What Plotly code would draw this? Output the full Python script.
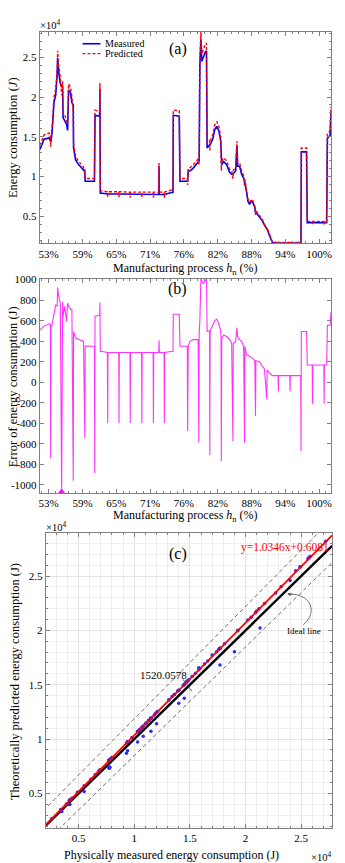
import numpy as np
import plotly.graph_objects as go

# ---------------- data ----------------
process_pct = [
    51.48, 52.19, 52.78, 53.05, 53.29, 53.35, 53.40, 53.58, 53.92, 54.21,
    54.47, 54.56, 54.73, 55.02, 55.25, 55.42, 55.50, 55.77, 56.10, 56.28,
    56.46, 56.80, 57.03, 57.27, 57.32, 57.67, 58.18, 58.70, 59.05, 59.28,
    59.34, 60.95, 61.00, 61.05, 61.60, 61.85, 61.90, 61.97, 62.30, 63.20,
    63.25, 63.30, 65.17, 65.22, 65.27, 67.12, 67.17, 67.22, 69.14, 69.19,
    69.24, 71.15, 71.20, 71.25, 72.13, 72.18, 72.23, 73.05, 73.10, 73.15,
    74.30, 74.60, 74.65, 75.69, 75.81, 77.09, 77.14, 77.25, 77.54, 78.05,
    78.97, 79.09, 79.15, 79.27, 79.45, 79.61, 79.84, 80.13, 80.25, 80.42,
    80.53, 80.95, 81.00, 81.05, 81.50, 81.86, 82.20, 82.55, 82.89, 82.95,
    83.00, 83.07, 83.40, 83.93, 84.45, 84.79, 85.02, 85.07, 85.49, 85.71,
    85.83, 86.18, 86.52, 86.87, 87.04, 87.09, 87.39, 87.62, 87.90, 88.25,
    88.42, 88.82, 88.94, 89.00, 89.63, 90.15, 90.49, 90.90, 90.95, 91.36,
    91.88, 92.86, 92.91, 92.96, 94.89, 94.94, 94.99, 96.79, 96.84, 96.90,
    97.81, 97.93, 98.79, 98.84, 98.89, 100.81, 100.86, 100.91, 101.30, 101.43,
    101.90, 102.05,
]
measured_J = [
    13400, 14700, 14800, 14900, 14500, 14500, 14400, 15500, 19300, 20200,
    22700, 24900, 23200, 21700, 21300, 21200, 17400, 17000, 16600, 15800,
    20900, 20500, 19300, 19000, 13600, 12100, 11500, 11100, 10800, 10800,
    9400, 9400, 17700, 17700, 17600, 17700, 21000, 7900, 7900, 7800,
    7800, 7800, 7800, 7800, 7800, 7750, 7750, 7750, 7750, 7750,
    7750, 7750, 7750, 7750, 7750, 11300, 7750, 7750, 7750, 7750,
    8000, 8000, 17700, 17600, 9400, 9400, 9400, 10700, 10700, 11000,
    11800, 12000, 12000, 24000, 27200, 24500, 24900, 25600, 25700, 25800,
    13600, 14000, 14000, 14000, 14700, 15900, 16300, 15800, 14500, 11500,
    11500, 11500, 11900, 11500, 10500, 10300, 10300, 10400, 10700, 13900,
    11300, 11300, 10300, 9800, 9300, 9300, 8000, 6900, 6500, 6900,
    6800, 6100, 5500, 5500, 4900, 4400, 3900, 3500, 3400, 2600,
    1700, 1650, 1650, 1650, 1650, 1650, 1650, 1650, 1650, 13100,
    13100, 4200, 4200, 4200, 4200, 4200, 4200, 4200, 4200, 14800,
    15200, 18100,
]
error_J = [
    508, 547, 560, 570, 565, -740, 534, 560, 670, 750,
    740, 922, 840, 767, -1070, 785, 640, 740, 590, 770,
    740, 710, 710, -960, 495, 430, 420, 410, 398, -545,
    353, 350, -885, 644, 650, 650, 777, 300, 300, 290,
    -400, 290, 290, -400, 290, 290, -400, 290, 290, -400,
    290, 290, -400, 290, 290, 410, 290, 290, -400, 290,
    300, 300, 663, 663, 350, 350, -475, 350, 398, 415,
    415, -590, 480, 600, 1005, 993, 960, 990, 1000, 1005,
    495, 500, -710, 500, 556, 600, 615, 570, 500, 427,
    -770, 427, 460, 445, 415, 380, -575, 380, 395, 530,
    445, 415, 400, 350, -590, 350, 265, 265, 250, 240,
    235, 210, -330, 210, 200, 155, 130, -165, 120, 90,
    65, 65, -90, 65, 65, -90, 65, 65, -670, 495,
    495, 168, 168, -210, 168, 168, -210, 168, 168, 556,
    556, 680,
]

x_tick_vals = [53, 58.875, 64.75, 70.625, 76.5, 82.375, 88.25, 94.125, 100]
x_tick_text = ['53%', '59%', '65%', '71%', '76%', '82%', '88%', '94%', '100%']
e4_tick_vals = [5000, 10000, 15000, 20000, 25000]
e4_tick_text = ['0.5', '1', '1.5', '2', '2.5']
err_tick_vals = [-1000, -800, -600, -400, -200, 0, 200, 400, 600, 800, 1000]
err_tick_text = ['-1000', '-800', '-600', '-400', '-200', '0', '200', '400', '600', '800', '1000']

fit_slope = 1.0346
fit_intercept = 0.6081
band_halfwidth = 1520.0578

# ---------------- derived ----------------
measured = np.array(measured_J, dtype=float)
error = np.array(error_J, dtype=float)
predicted = measured + error
imin = int(np.argmin(error))

W, H = 345, 863
def PX(px):
    return px / W
def PY(py):
    return 1 - py / H

SERIF = 'Liberation Serif'
AX = '#808080'

fig = go.Figure()

# (a)
fig.add_trace(go.Scatter(x=process_pct, y=measured, mode='lines', name='Measured',
                         line=dict(color='#0000ff', width=1.6), xaxis='x', yaxis='y',
                         showlegend=False))
fig.add_trace(go.Scatter(x=process_pct, y=predicted, mode='lines', name='Predicted',
                         line=dict(color='#ff0000', width=1.4, dash='3px,2px'),
                         xaxis='x', yaxis='y', showlegend=False))
# (b)
fig.add_trace(go.Scatter(x=process_pct, y=error, mode='lines', name='Error',
                         line=dict(color='#ff33ff', width=1.1), xaxis='x2', yaxis='y2',
                         showlegend=False))
fig.add_trace(go.Scatter(x=[process_pct[imin]], y=[error[imin]], mode='markers',
                         marker=dict(symbol='triangle-up', size=7, color='#ff00ff'),
                         xaxis='x2', yaxis='y2', showlegend=False, cliponaxis=False))

# (c)
x_line = np.array([1800.0, 27770.0])
fig.add_trace(go.Scatter(x=x_line, y=fit_slope * x_line + fit_intercept + band_halfwidth,
                         mode='lines', line=dict(color='#606060', width=0.9, dash='4px,3px'),
                         xaxis='x3', yaxis='y3', showlegend=False))
fig.add_trace(go.Scatter(x=x_line, y=x_line - band_halfwidth,
                         mode='lines', line=dict(color='#606060', width=0.9, dash='4px,3px'),
                         xaxis='x3', yaxis='y3', showlegend=False))
fig.add_trace(go.Scatter(x=x_line, y=x_line, mode='lines', name='Ideal line',
                         line=dict(color='#000000', width=2.4),
                         xaxis='x3', yaxis='y3', showlegend=False))
fig.add_trace(go.Scatter(x=measured, y=predicted, mode='markers',
                         marker=dict(color='#2a2aff', size=3.5),
                         xaxis='x3', yaxis='y3', showlegend=False))
fig.add_trace(go.Scatter(x=x_line, y=fit_slope * x_line + fit_intercept, mode='lines',
                         line=dict(color='#ff0000', width=1.8),
                         xaxis='x3', yaxis='y3', showlegend=False))

tickfont = dict(family=SERIF, size=11, color='black')

def axstyle(**kw):
    d = dict(showline=True, linecolor=AX, linewidth=1, mirror='ticks', ticks='inside',
             ticklen=4, tickcolor=AX, zeroline=False, showgrid=False, tickfont=tickfont,
             fixedrange=True)
    d.update(kw)
    return d

xminor = dict(ticks='inside', ticklen=2, tickcolor=AX, tick0=53, dtick=1.175)

fig.update_layout(
    width=W, height=H, autosize=False,
    margin=dict(l=0, r=0, t=0, b=0),
    paper_bgcolor='white', plot_bgcolor='white',
    font=dict(family=SERIF, color='black'),
    xaxis=axstyle(domain=[PX(39), PX(332)], range=[51.45, 102.07], anchor='y',
                  tickvals=x_tick_vals, ticktext=x_tick_text, minor=xminor),
    yaxis=axstyle(domain=[PY(239), PY(26)], range=[1600, 28200], anchor='x',
                  tickvals=e4_tick_vals, ticktext=e4_tick_text,
                  minor=dict(ticks='inside', ticklen=2, tickcolor=AX, dtick=1000)),
    xaxis2=axstyle(domain=[PX(39), PX(332)], range=[51.45, 102.07], anchor='y2',
                   tickvals=x_tick_vals, ticktext=x_tick_text, minor=xminor),
    yaxis2=axstyle(domain=[PY(490), PY(275)], range=[-1075, 1005], anchor='x2',
                   tickvals=err_tick_vals, ticktext=err_tick_text),
    xaxis3=axstyle(domain=[PX(45), PX(333)], range=[2050, 27770], anchor='y3',
                   tickvals=e4_tick_vals, ticktext=e4_tick_text, showgrid=True,
                   gridcolor='#e4e4e4',
                   minor=dict(ticks='inside', ticklen=2, tickcolor=AX, dtick=1000,
                              showgrid=True, gridcolor='#eeeeee')),
    yaxis3=axstyle(domain=[PY(828), PY(531)], range=[1800, 28930], anchor='x3',
                   tickvals=e4_tick_vals, ticktext=e4_tick_text, showgrid=True,
                   gridcolor='#e4e4e4',
                   minor=dict(ticks='inside', ticklen=2, tickcolor=AX, dtick=1000,
                              showgrid=True, gridcolor='#eeeeee')),
)

ann = []
def text(px, py, s, size, **kw):
    d = dict(x=PX(px), y=PY(py), xref='paper', yref='paper', text=s, showarrow=False,
             xanchor='center', yanchor='middle',
             font=dict(family=SERIF, size=size, color=kw.pop('color', 'black')))
    d.update(kw)
    ann.append(d)

# axis titles
xtitle = 'Manufacturing process <i>h</i><sub>n</sub> (%)'
text(185, 265, xtitle, 12)
text(185, 514, xtitle, 12)
text(12, 132, 'Energy consumption (<i>J</i>)', 12.5, textangle=-90)
text(12, 383, 'Error of energy consumption (J)', 12.5, textangle=-90)
text(14, 680, 'Theoretically predicted energy consumption (J)', 12.5, textangle=-90)
text(171, 855, 'Physically measured energy consumption (J)', 12)
# exponent labels
text(49, 19, '×10<sup>4</sup>', 10.5)
text(55, 524, '×10<sup>4</sup>', 10.5)
text(322, 856, '×10<sup>4</sup>', 10.5)
# panel labels
text(178, 43, '(a)', 16)
text(178, 285, '(b)', 16)
text(178, 552, '(c)', 16)
# legend (a)
text(103, 38, 'Measured', 10, xanchor='left')
text(103, 48, 'Predicted', 10, xanchor='left')
# (c) labels
text(332, 545, 'y=1.0346x+0.6081', 11.5, xanchor='right', color='#ff0000')
text(163, 674, '1520.0578', 11)
text(305, 629, 'Ideal line', 9)
# arrowhead for the ideal-line callout
ann.append(dict(x=PX(288), y=PY(592), xref='paper', yref='paper', ax=7, ay=1,
                showarrow=True, arrowhead=2, arrowsize=0.8, arrowwidth=0.8,
                arrowcolor='#555555', text=''))
fig.update_layout(annotations=ann)

shapes = [
    dict(type='line', xref='paper', yref='paper', x0=PX(82), x1=PX(100), y0=PY(38), y1=PY(38),
         line=dict(color='#0000ff', width=1.6)),
    dict(type='line', xref='paper', yref='paper', x0=PX(82), x1=PX(100), y0=PY(48), y1=PY(48),
         line=dict(color='#ff0000', width=1.4, dash='3px,2px')),
    dict(type='line', xref='paper', yref='paper', x0=PX(183), x1=PX(192), y0=PY(678), y1=PY(690),
         line=dict(color='#333333', width=0.8)),
    dict(type='path', xref='paper', yref='paper',
         path='M {:.5f},{:.5f} C {:.5f},{:.5f} {:.5f},{:.5f} {:.5f},{:.5f}'.format(
             PX(304), PY(623), PX(318), PY(612), PX(314), PY(592), PX(289), PY(592)),
         line=dict(color='#555555', width=0.8)),
]
fig.update_layout(shapes=shapes)

fig.write_html('out.html')
